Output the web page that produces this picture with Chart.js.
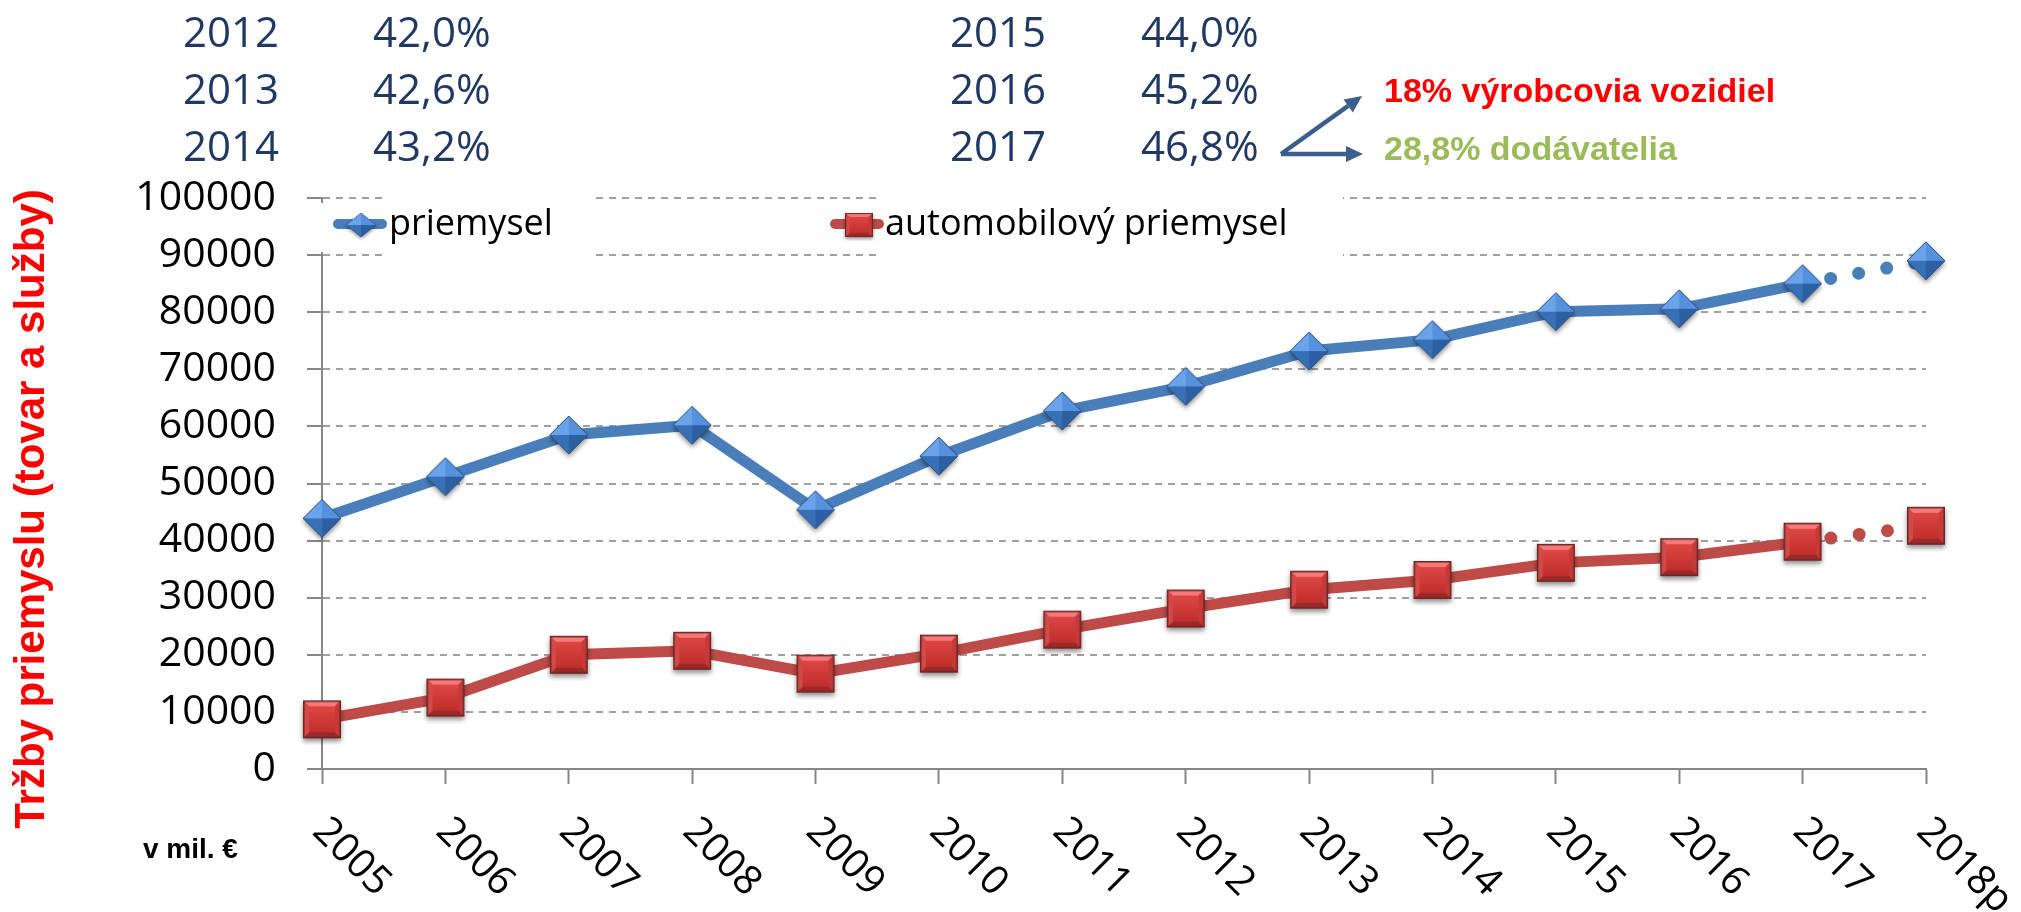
<!DOCTYPE html>
<html>
<head>
<meta charset="utf-8">
<script src="https://cdn.jsdelivr.net/npm/chart.js@4/dist/chart.umd.min.js"></script>
<style>
    html, body { margin: 0; padding: 0; background: #fff; }
    canvas { display: block; }
</style>
</head>
<body>
<canvas id="salesChart" width="2021" height="912"></canvas>
<script>
// Data
const years = ['2005', '2006', '2007', '2008', '2009', '2010', '2011', '2012', '2013', '2014', '2015', '2016', '2017', '2018p'];
const industry = [43900, 51200, 58500, 60200, 45400, 54800, 62700, 67000, 73200, 75200, 80100, 80600, 85000, 89000];
const automotive = [8700, 12500, 20000, 20700, 16700, 20200, 24400, 28100, 31400, 33100, 36100, 37100, 39800, 42600];
const seriesNames = ['priemysel', 'automobilový priemysel'];
const forecastIndex = 13;

const shareYears = ['2012', '2013', '2014', '2015', '2016', '2017'];
const shareValues = ['42,0%', '42,6%', '43,2%', '44,0%', '45,2%', '46,8%'];
const splitLabels = ['18% výrobcovia vozidiel', '28,8% dodávatelia'];
const yTitle = 'Tržby priemyslu (tovar a služby)';
const unitLabel = 'v mil. €';

const blue = '#4a7ebb';
const red = '#be4b48';

// Bevelled diamond marker
const diamondMarker = (r) => {
    const pad = 7, n = 2 * (r + pad), m = n / 2;
    const c = document.createElement('canvas');
    c.width = c.height = n;
    const g = c.getContext('2d');
    const pts = [[m, m - r], [m + r, m], [m, m + r], [m - r, m]];
    const shape = () => {
        g.beginPath();
        pts.forEach((p, i) => i ? g.lineTo(p[0], p[1]) : g.moveTo(p[0], p[1]));
        g.closePath();
    };
    g.save();
    g.shadowColor = 'rgba(0,0,0,0.45)';
    g.shadowBlur = 5;
    g.shadowOffsetY = 3;
    shape();
    g.fillStyle = '#3a6fb0';
    g.fill();
    g.restore();
    const faces = ['#6aa3ea', '#5591dc', '#2c60a2', '#3870b5'];
    for (let i = 0; i < 4; i++) {
        const a = pts[(i + 3) % 4], b = pts[i];
        g.beginPath();
        g.moveTo(m, m);
        g.lineTo(a[0], a[1]);
        g.lineTo(b[0], b[1]);
        g.closePath();
        g.fillStyle = faces[i];
        g.fill();
    }
    shape();
    g.strokeStyle = '#2b4f80';
    g.lineWidth = 1;
    g.stroke();
    return c;
};

// Bevelled square marker
const squareMarker = (h) => {
    const pad = 7, n = 2 * (h + pad), m = n / 2, b = 6;
    const c = document.createElement('canvas');
    c.width = c.height = n;
    const g = c.getContext('2d');
    const x0 = m - h, y0 = m - h, x1 = m + h, y1 = m + h;
    const poly = (list, fill) => {
        g.beginPath();
        list.forEach((p, i) => i ? g.lineTo(p[0], p[1]) : g.moveTo(p[0], p[1]));
        g.closePath();
        g.fillStyle = fill;
        g.fill();
    };
    g.save();
    g.shadowColor = 'rgba(0,0,0,0.45)';
    g.shadowBlur = 5;
    g.shadowOffsetY = 3;
    g.fillStyle = '#b83432';
    g.fillRect(x0, y0, 2 * h, 2 * h);
    g.restore();
    poly([[x0, y0], [x1, y0], [x1 - b, y0 + b], [x0 + b, y0 + b]], '#f27b7a');
    poly([[x1, y0], [x1, y1], [x1 - b, y1 - b], [x1 - b, y0 + b]], '#c43a38');
    poly([[x1, y1], [x0, y1], [x0 + b, y1 - b], [x1 - b, y1 - b]], '#9c2927');
    poly([[x0, y1], [x0, y0], [x0 + b, y0 + b], [x0 + b, y1 - b]], '#d24a48');
    const grad = g.createLinearGradient(0, y0 + b, 0, y1 - b);
    grad.addColorStop(0, '#de4644');
    grad.addColorStop(1, '#bf2f2d');
    g.fillStyle = grad;
    g.fillRect(x0 + b, y0 + b, 2 * (h - b), 2 * (h - b));
    g.strokeStyle = '#6e2422';
    g.lineWidth = 1.5;
    g.strokeRect(x0 + 0.75, y0 + 0.75, 2 * h - 1.5, 2 * h - 1.5);
    return c;
};

const diamondImg = diamondMarker(19);
const squareImg = squareMarker(19);

const isForecast = c => c.p1DataIndex === forecastIndex;
const forecastSegment = {
    borderDash: c => isForecast(c) ? [0, 28.5] : undefined,
    borderCapStyle: c => isForecast(c) ? 'round' : undefined,
    borderWidth: c => isForecast(c) ? 13 : undefined,
};

// Legend, rotated year labels and the notes round the chart
const decorPlugin = {
    id: 'decor',
    afterDraw(chart) {
        const ctx = chart.ctx;
        const xs = chart.scales.x;
        ctx.save();

        // legend background boxes hide the grid lines behind them
        ctx.fillStyle = '#fff';
        ctx.fillRect(383, 190, 207, 72);
        ctx.fillRect(880, 190, 463, 72);
        ctx.fillRect(318, 203, 8, 49);

        // legend
        const legendItems = [
            { x1: 338, x2: 382, mx: 361, color: blue, img: diamondImg, mw: 30, mh: 24, tx: 389 },
            { x1: 835, x2: 879, mx: 859, color: red, img: squareImg, mw: 28, mh: 24, tx: 885 },
        ];
        legendItems.forEach((it, i) => {
            ctx.strokeStyle = it.color;
            ctx.lineWidth = 10;
            ctx.lineCap = 'round';
            ctx.beginPath();
            ctx.moveTo(it.x1, 224);
            ctx.lineTo(it.x2, 224);
            ctx.stroke();
            const n = it.img.width, sx = it.mw / 38, sy = it.mh / 38;
            ctx.drawImage(it.img, it.mx - n * sx / 2, 225 - n * sy / 2, n * sx, n * sy);
            ctx.fillStyle = '#000';
            ctx.font = "36px 'Open Sans'";
            ctx.textAlign = 'left';
            ctx.textBaseline = 'alphabetic';
            ctx.fillText(chart.data.datasets[i].label, it.tx, 235);
        });

        // x labels, turned 45 degrees clockwise
        ctx.font = "40px 'Open Sans'";
        ctx.fillStyle = '#000';
        chart.data.labels.forEach((lab, i) => {
            const x = xs.getPixelForValue(i);
            ctx.save();
            ctx.translate(x - 11, 833);
            ctx.rotate(Math.PI / 4);
            ctx.fillText(lab, 0, 0);
            ctx.restore();
        });

        // y axis title
        ctx.save();
        ctx.translate(44, 509);
        ctx.rotate(-Math.PI / 2);
        ctx.font = "bold 42px 'Liberation Sans'";
        ctx.fillStyle = '#ff0000';
        ctx.textAlign = 'center';
        ctx.fillText(yTitle, 0, 0);
        ctx.restore();

        // unit
        ctx.font = "bold 28px 'Liberation Sans'";
        ctx.fillStyle = '#000';
        ctx.fillText(unitLabel, 143, 858);

        // shares of the automotive industry
        ctx.font = "42px 'Open Sans'";
        ctx.fillStyle = '#1f3864';
        const cols = [[183, 373], [950, 1141]];
        shareYears.forEach((y, i) => {
            const col = cols[Math.floor(i / 3)];
            const base = 47 + (i % 3) * 57;
            ctx.fillText(y, col[0], base);
            ctx.fillText(shareValues[i], col[1], base);
        });

        // split arrows
        const arrow = (x0, y0, x1, y1) => {
            const ang = Math.atan2(y1 - y0, x1 - x0);
            const L = 17, W = 8;
            const bx = x1 - L * Math.cos(ang), by = y1 - L * Math.sin(ang);
            ctx.strokeStyle = '#3b5f8d';
            ctx.fillStyle = '#3b5f8d';
            ctx.lineWidth = 4.5;
            ctx.lineCap = 'butt';
            ctx.beginPath();
            ctx.moveTo(x0, y0);
            ctx.lineTo(bx, by);
            ctx.stroke();
            ctx.beginPath();
            ctx.moveTo(x1, y1);
            ctx.lineTo(bx + W * Math.sin(ang), by - W * Math.cos(ang));
            ctx.lineTo(bx - W * Math.sin(ang), by + W * Math.cos(ang));
            ctx.closePath();
            ctx.fill();
        };
        ctx.lineJoin = 'miter';
        arrow(1281, 154, 1362, 96);
        arrow(1281, 154, 1363, 154);

        ctx.font = "bold 34px 'Liberation Sans'";
        ctx.fillStyle = '#ff0000';
        ctx.fillText(splitLabels[0], 1384, 102);
        ctx.fillStyle = '#9bbb59';
        ctx.fillText(splitLabels[1], 1384, 160);

        ctx.restore();
    }
};

const chartCtx = document.getElementById('salesChart').getContext('2d');

new Chart(chartCtx, {
    type: 'line',
    data: {
        labels: years,
        datasets: [{
            label: seriesNames[0],
            data: industry,
            borderColor: blue,
            borderWidth: 11,
            pointStyle: diamondImg,
            pointRadius: 19,
            clip: false,
            segment: forecastSegment,
        }, {
            label: seriesNames[1],
            data: automotive,
            borderColor: red,
            borderWidth: 11,
            pointStyle: squareImg,
            pointRadius: 19,
            clip: false,
            segment: forecastSegment,
        }]
    },
    options: {
        responsive: false,
        animation: false,
        events: [],
        layout: { padding: { top: 198, right: 95, left: 0, bottom: 0 } },
        plugins: {
            legend: { display: false },
            tooltip: { enabled: false },
        },
        scales: {
            x: {
                offset: false,
                ticks: { display: false },
                grid: {
                    drawOnChartArea: false,
                    tickLength: 15,
                    tickColor: '#868686',
                    tickWidth: 2,
                    color: '#868686',
                },
                border: { color: '#868686', width: 2 },
                afterFit: (scale) => { scale.height = 143; },
            },
            y: {
                min: 0,
                max: 100000,
                ticks: {
                    stepSize: 10000,
                    padding: 31,
                    color: '#000',
                    font: { family: "'Open Sans'", size: 41 },
                    callback: v => String(v),
                },
                grid: {
                    color: c => c.tick && c.tick.value === 0 ? 'rgba(0,0,0,0)' : '#a0a0a0',
                    lineWidth: 2,
                    tickLength: 15,
                    tickColor: '#868686',
                    tickWidth: 2,
                    tickBorderDash: [],
                },
                border: { color: '#868686', width: 2, dash: [7, 6] },
                afterFit: (scale) => { scale.width = 322; },
            }
        }
    },
    plugins: [decorPlugin]
});
</script>
</body>
</html>
